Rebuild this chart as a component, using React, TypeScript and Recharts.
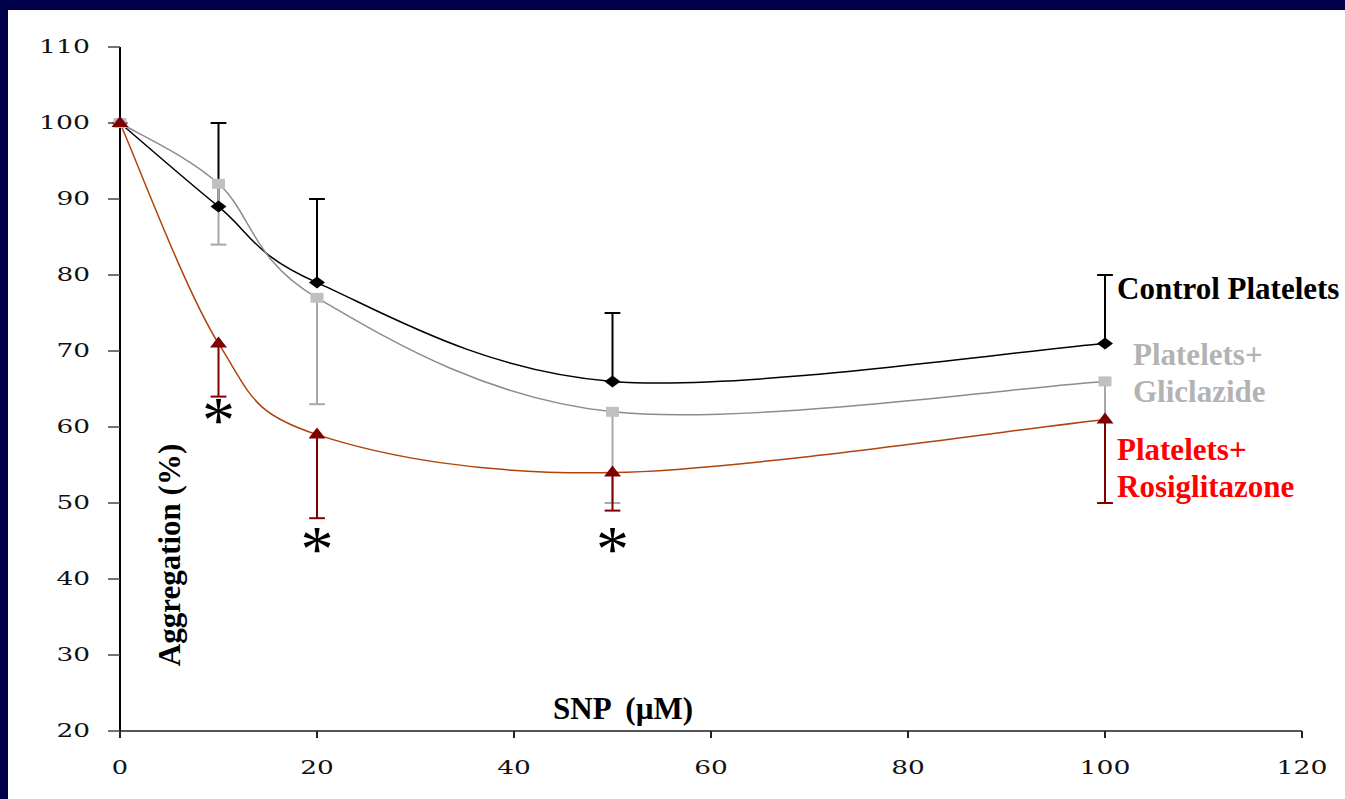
import React from 'react';
import { LineChart, Line, XAxis, YAxis, ErrorBar, ReferenceDot, ReferenceLine } from 'recharts';

// SNP dose (µM) and mean aggregation (%) with one-sided SD
const doses = [0, 10, 20, 50, 100];
const control = [100, 89, 79, 66, 71];
const controlSd = [null, 11, 11, 9, 9];
const gliclazide = [100, 92, 77, 62, 66];
const gliclazideSd = [null, 8, 14, 12, 16];
const rosiglitazone = [100, 71, 59, 54, 61];
const rosiglitazoneSd = [null, 7, 11, 5, 11];

const xTicks = [0, 20, 40, 60, 80, 100, 120];
const yTicks = [20, 30, 40, 50, 60, 70, 80, 90, 100, 110];

// significance marks (dose, y position in %)
const starDoses = [10, 20, 50];
const starLevels = [62, 45, 45];

const data = doses.map((d, i) => ({
  dose: d,
  control: control[i],
  controlErr: controlSd[i] == null ? null : [0, controlSd[i]],
  gliclazide: gliclazide[i],
  gliclazideErr: gliclazideSd[i] == null ? null : [gliclazideSd[i], 0],
  rosiglitazone: rosiglitazone[i],
  rosiglitazoneErr: rosiglitazoneSd[i] == null ? null : [rosiglitazoneSd[i], 0],
}));

// cap ends of the error bars: up for control, down for the treated groups
const caps = [
  { key: 'c', values: control, sd: controlSd, sign: 1, color: '#000' },
  { key: 'g', values: gliclazide, sd: gliclazideSd, sign: -1, color: '#A8A8A8' },
  { key: 'r', values: rosiglitazone, sd: rosiglitazoneSd, sign: -1, color: '#800000' },
];
const CAP_HALF = 0.8; // in dose units

// Excel-like smoothed line (cardinal bezier through the points)
const smoothCurve = (context: any) => {
  let pts: number[][] = [];
  return {
    areaStart() {},
    areaEnd() {},
    lineStart() {
      pts = [];
    },
    point(x: number, y: number) {
      pts.push([+x, +y]);
    },
    lineEnd() {
      if (!pts.length) return;
      context.moveTo(pts[0][0], pts[0][1]);
      const t = 1 / 6;
      for (let i = 0; i < pts.length - 1; i++) {
        const p0 = pts[i - 1] || pts[i];
        const p1 = pts[i];
        const p2 = pts[i + 1];
        const p3 = pts[i + 2] || p2;
        context.bezierCurveTo(
          p1[0] + (p2[0] - p0[0]) * t,
          p1[1] + (p2[1] - p0[1]) * t,
          p2[0] - (p3[0] - p1[0]) * t,
          p2[1] - (p3[1] - p1[1]) * t,
          p2[0],
          p2[1]
        );
      }
    },
  };
};

const diamond = (p: any) => (
  <path
    key={`d-${p.index}`}
    d={`M${p.cx - 8},${p.cy} L${p.cx},${p.cy - 6} L${p.cx + 8},${p.cy} L${p.cx},${p.cy + 6} Z`}
    fill="#000"
  />
);

const square = (p: any) => (
  <rect key={`s-${p.index}`} x={p.cx - 6.5} y={p.cy - 5} width={13} height={10} fill="#C0C0C0" />
);

const triangle = (p: any) => (
  <path
    key={`t-${p.index}`}
    d={`M${p.cx - 8.5},${p.cy + 4} L${p.cx},${p.cy - 7} L${p.cx + 8.5},${p.cy + 4} Z`}
    fill="#7F0000"
  />
);

const STAR_SIZE = 66;
const star = (p: any) => (
  <text x={p.cx} y={p.cy + STAR_SIZE * 0.45} textAnchor="middle" fontFamily="Liberation Serif" fontSize={STAR_SIZE} fill="#000">
    *
  </text>
);

const tickText = {
  fontFamily: 'DejaVu Serif',
  fontSize: 18,
  fill: '#111',
  lengthAdjust: 'spacingAndGlyphs' as const,
};

const XTick = (p: any) => {
  const s = String(p.payload.value);
  return (
    <text x={p.x} y={p.y} dy="0.355em" textAnchor="middle" textLength={s.length * 17.3 - 1} {...tickText}>
      {s}
    </text>
  );
};

const YTick = (p: any) => {
  const s = String(p.payload.value);
  return (
    <text x={p.x} y={p.y} dy="0.355em" textAnchor="end" textLength={s.length * 17.3 - 1} {...tickText}>
      {s}
    </text>
  );
};

const labelFont = { fontFamily: 'Liberation Serif', fontSize: 31, fontWeight: 700 };

export default function App() {
  return (
    <div style={{ position: 'absolute', left: 0, top: 0, width: 1345, height: 799, background: '#00004D' }}>
      <div style={{ position: 'absolute', left: 8, top: 10, right: 0, bottom: 0, background: '#fff' }} />
      <div style={{ position: 'absolute', left: 0, top: 0 }}>
        <LineChart width={1345} height={799} data={data} margin={{ top: 47, right: 43, left: 0, bottom: 0 }}>
          <XAxis
            dataKey="dose"
            type="number"
            domain={[0, 120]}
            ticks={xTicks}
            height={68}
            axisLine={{ stroke: '#555', strokeWidth: 2 }}
            tickLine={{ stroke: '#222', strokeWidth: 2 }}
            tickSize={7}
            tickMargin={30}
            tick={<XTick />}
          />
          <YAxis
            type="number"
            domain={[20, 110]}
            ticks={yTicks}
            width={120}
            axisLine={{ stroke: '#000', strokeWidth: 2 }}
            tickLine={{ stroke: '#444', strokeWidth: 1.5 }}
            tickSize={12}
            tickMargin={18}
            tick={<YTick />}
          />
          {caps.flatMap((c) =>
            doses.map((d, i) => {
              const sd = c.sd[i];
              if (sd == null) return null;
              const yEnd = c.values[i] + c.sign * sd;
              return (
                <ReferenceLine
                  key={`cap-${c.key}-${d}`}
                  segment={[
                    { x: d - CAP_HALF, y: yEnd },
                    { x: d + CAP_HALF, y: yEnd },
                  ]}
                  stroke={c.color}
                  strokeWidth={2}
                />
              );
            })
          )}
          <Line
            dataKey="control"
            type={smoothCurve as any}
            stroke="#000"
            strokeWidth={1.5}
            dot={diamond}
            activeDot={false}
            isAnimationActive={false}
          >
            <ErrorBar dataKey="controlErr" width={0} stroke="#000" strokeWidth={2} direction="y" />
          </Line>
          <Line
            dataKey="gliclazide"
            type={smoothCurve as any}
            stroke="#8C8C8C"
            strokeWidth={1.5}
            dot={square}
            activeDot={false}
            isAnimationActive={false}
          >
            <ErrorBar dataKey="gliclazideErr" width={0} stroke="#A8A8A8" strokeWidth={2} direction="y" />
          </Line>
          <Line
            dataKey="rosiglitazone"
            type={smoothCurve as any}
            stroke="#B0420C"
            strokeWidth={1.5}
            dot={triangle}
            activeDot={false}
            isAnimationActive={false}
          >
            <ErrorBar dataKey="rosiglitazoneErr" width={0} stroke="#800000" strokeWidth={2} direction="y" />
          </Line>
          {starDoses.map((d, i) => (
            <ReferenceDot key={`star-${d}`} x={d} y={starLevels[i]} r={0} shape={star} />
          ))}
        </LineChart>
      </div>
      <svg width={1345} height={799} style={{ position: 'absolute', left: 0, top: 0, pointerEvents: 'none' }}>
        <text {...labelFont} fill="#000" textAnchor="middle" transform="translate(180,555) rotate(-90)">
          Aggregation (%)
        </text>
        <text {...labelFont} fill="#000" x={553} y={719} style={{ whiteSpace: 'pre' }}>
          {'SNP  (µM)'}
        </text>
        <text {...labelFont} fill="#000" x={1117} y={299}>
          Control Platelets
        </text>
        <text {...labelFont} fill="#B3B3B3" x={1133} y={365}>
          Platelets+
        </text>
        <text {...labelFont} fill="#B3B3B3" x={1133} y={402}>
          Gliclazide
        </text>
        <text {...labelFont} fill="#FF0000" x={1117} y={460}>
          Platelets+
        </text>
        <text {...labelFont} fill="#FF0000" x={1117} y={497}>
          Rosiglitazone
        </text>
      </svg>
    </div>
  );
}
